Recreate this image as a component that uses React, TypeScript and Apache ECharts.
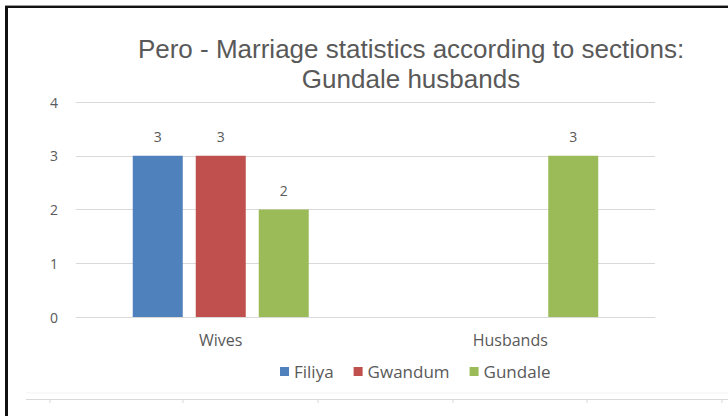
import React, { useEffect, useRef } from "react";
import * as echarts from "echarts";

const categories = ["Wives", "Husbands"];
const seriesNames = ["Filiya", "Gwandum", "Gundale"];
const filiya = [3, null];
const gwandum = [3, null];
const gundale = [2, 3];
const seriesColors = ["#4F81BD", "#C0504D", "#9BBB59"];
const titleLines = ["Pero - Marriage statistics according to sections:", "Gundale husbands"];
const bottomTickXs = [50, 183, 318, 453, 587, 722];

export default function App() {
  const ref = useRef<HTMLDivElement>(null);
  useEffect(() => {
    if (!ref.current) return;
    const chart = echarts.init(ref.current, null, { renderer: "svg" });
    const seriesData = [filiya, gwandum, gundale];
    const labelFont = "'Open Sans', sans-serif";
    chart.setOption({
      animation: false,
      backgroundColor: "#ffffff",
      grid: { left: 76, top: 102, width: 579, height: 215, containLabel: false },
      legend: {
        data: seriesNames,
        left: 275,
        top: 358,
        itemWidth: 9,
        itemHeight: 9,
        itemGap: 20,
        icon: "rect",
        textStyle: { color: "#595959", fontSize: 17, fontFamily: labelFont },
      },
      xAxis: {
        type: "category",
        data: categories,
        axisLine: { show: true, lineStyle: { color: "#d9d9d9" } },
        axisTick: { show: false },
        axisLabel: { color: "#595959", fontSize: 16, fontFamily: labelFont, margin: 15 },
      },
      yAxis: {
        type: "value",
        min: 0,
        max: 4,
        interval: 1,
        axisLine: { show: false },
        axisTick: { show: false },
        splitLine: { lineStyle: { color: "#d9d9d9" } },
        axisLabel: { color: "#595959", fontSize: 14, fontFamily: labelFont, margin: 18 },
      },
      series: seriesNames.map((name, i) => ({
        name,
        type: "bar",
        data: seriesData[i],
        barWidth: 50,
        barGap: "26%",
        itemStyle: { color: seriesColors[i] },
        label: {
          show: true,
          position: "top",
          distance: 12,
          color: "#595959",
          fontSize: 14,
          fontFamily: labelFont,
        },
      })),
      graphic: [
        { type: "rect", shape: { x: 5, y: 5, width: 723, height: 1 }, style: { fill: "#9a9a9a" }, silent: true },
        { type: "rect", shape: { x: 5, y: 6, width: 723, height: 2 }, style: { fill: "#111111" }, silent: true },
        { type: "rect", shape: { x: 5, y: 6, width: 3, height: 410 }, style: { fill: "#111111" }, silent: true },
        { type: "line", shape: { x1: 26, y1: 393, x2: 728, y2: 393 }, style: { stroke: "#f2f2f2", lineWidth: 1 }, silent: true },
        { type: "line", shape: { x1: 26, y1: 399.5, x2: 728, y2: 399.5 }, style: { stroke: "#d9d9d9", lineWidth: 1 }, silent: true },
        ...bottomTickXs.map((x) => ({
          type: "line",
          shape: { x1: x, y1: 399, x2: x, y2: 403 },
          style: { stroke: "#d9d9d9", lineWidth: 1 },
          silent: true,
        })),
        ...titleLines.map((t, i) => ({
          type: "text",
          x: 411,
          y: 49 + i * 30,
          style: {
            text: t,
            fill: "#595959",
            font: "26px 'Liberation Sans', Arial, sans-serif",
            textAlign: "center",
            textVerticalAlign: "middle",
          },
          silent: true,
        })),
      ],
    });
    return () => chart.dispose();
  }, []);
  return (
    <div style={{ position: "fixed", left: 0, top: 0, width: 728, height: 416, background: "#fff" }}>
      <div ref={ref} style={{ width: 728, height: 416 }} />
    </div>
  );
}
